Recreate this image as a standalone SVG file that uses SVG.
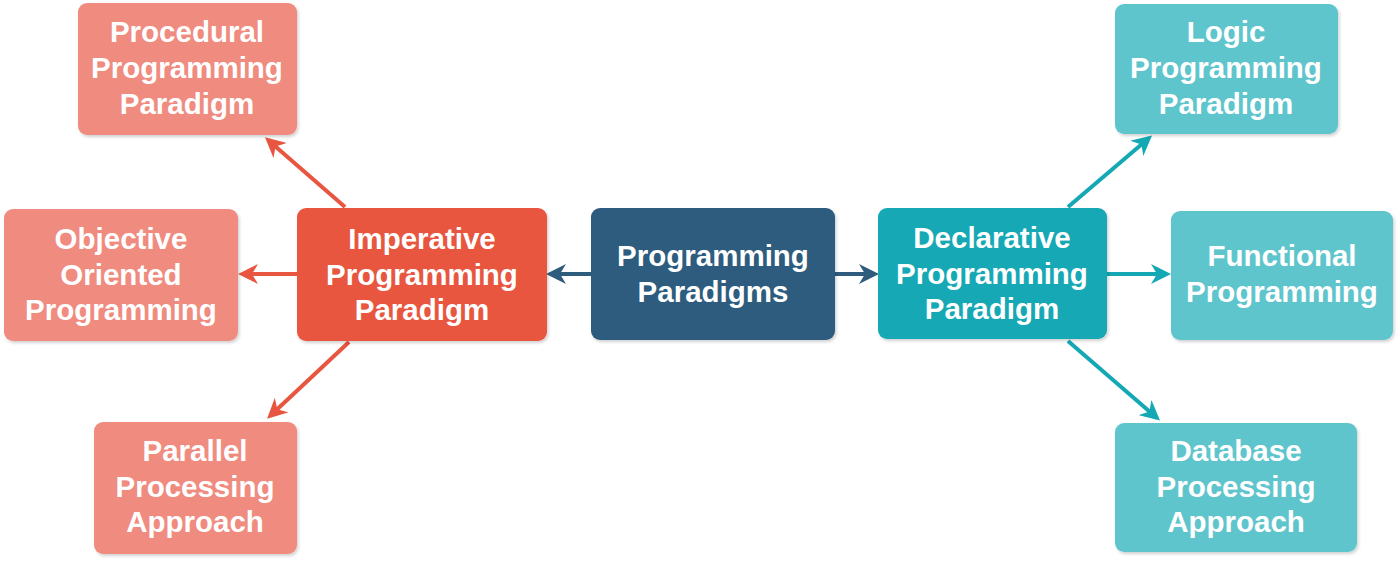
<svg xmlns="http://www.w3.org/2000/svg" width="1400" height="562" viewBox="0 0 1400 562">
<defs>
<style>
.t{font-family:"Liberation Sans",Arial,sans-serif;font-weight:bold;font-size:29.5px;fill:#ffffff;text-anchor:middle}
.lr{fill:#F08B7F}
.dr{fill:#E85641}
.nv{fill:#2E5C7E}
.tl{fill:#13A8B4}
.lt{fill:#5FC5CD}
.c{fill:none;stroke-width:4}
.cr{stroke:#E85641}
.cb{stroke:#2E5C7E}
.ct{stroke:#13A8B4}
</style>
<filter id="sh" x="-10%" y="-10%" width="125%" height="130%">
<feDropShadow dx="1.5" dy="2" stdDeviation="1.5" flood-color="#000" flood-opacity="0.18"/>
</filter>
<marker id="ar" viewBox="0 0 10 10" refX="8" refY="5" markerWidth="5" markerHeight="5" orient="auto" markerUnits="strokeWidth">
<path d="M0,0 L10,5 L0,10 L3,5 z" fill="#E85641"/>
</marker>
<marker id="ab" viewBox="0 0 10 10" refX="8" refY="5" markerWidth="5" markerHeight="5" orient="auto" markerUnits="strokeWidth">
<path d="M0,0 L10,5 L0,10 L3,5 z" fill="#2E5C7E"/>
</marker>
<marker id="at" viewBox="0 0 10 10" refX="8" refY="5" markerWidth="5" markerHeight="5" orient="auto" markerUnits="strokeWidth">
<path d="M0,0 L10,5 L0,10 L3,5 z" fill="#13A8B4"/>
</marker>
</defs>
<rect width="1400" height="562" fill="#ffffff"/>

<g id="connectors">
<line class="c cb" x1="591" y1="274" x2="550" y2="274" marker-end="url(#ab)"/>
<line class="c cb" x1="835" y1="274" x2="875" y2="274" marker-end="url(#ab)"/>
<line class="c cr" x1="345" y1="207" x2="268" y2="140" marker-end="url(#ar)"/>
<line class="c cr" x1="297" y1="274" x2="242" y2="274" marker-end="url(#ar)"/>
<line class="c cr" x1="349" y1="342" x2="270" y2="416" marker-end="url(#ar)"/>
<line class="c ct" x1="1068" y1="207" x2="1149" y2="138" marker-end="url(#at)"/>
<line class="c ct" x1="1107" y1="274" x2="1167" y2="274" marker-end="url(#at)"/>
<line class="c ct" x1="1068" y1="341" x2="1157" y2="418" marker-end="url(#at)"/>
</g>

<g id="n-center">
<rect class="nv" x="591" y="208" width="244" height="132" rx="9" filter="url(#sh)"/>
<text class="t" x="713" y="266">Programming</text>
<text class="t" x="713" y="302">Paradigms</text>
</g>

<g id="n-imperative">
<rect class="dr" x="297" y="208" width="250" height="133" rx="9" filter="url(#sh)"/>
<text class="t" x="422" y="249">Imperative</text>
<text class="t" x="422" y="285">Programming</text>
<text class="t" x="422" y="320">Paradigm</text>
</g>

<g id="n-declarative">
<rect class="tl" x="878" y="208" width="229" height="131" rx="9" filter="url(#sh)"/>
<text class="t" x="992" y="248">Declarative</text>
<text class="t" x="992" y="284">Programming</text>
<text class="t" x="992" y="319">Paradigm</text>
</g>

<g id="n-procedural">
<rect class="lr" x="78" y="3" width="219" height="132" rx="9" filter="url(#sh)"/>
<text class="t" x="187" y="42">Procedural</text>
<text class="t" x="187" y="78">Programming</text>
<text class="t" x="187" y="114">Paradigm</text>
</g>

<g id="n-objective">
<rect class="lr" x="4" y="209" width="234" height="132" rx="9" filter="url(#sh)"/>
<text class="t" x="121" y="249">Objective</text>
<text class="t" x="121" y="285">Oriented</text>
<text class="t" x="121" y="320">Programming</text>
</g>

<g id="n-parallel">
<rect class="lr" x="94" y="422" width="203" height="132" rx="9" filter="url(#sh)"/>
<text class="t" x="195" y="461">Parallel</text>
<text class="t" x="195" y="497">Processing</text>
<text class="t" x="195" y="532">Approach</text>
</g>

<g id="n-logic">
<rect class="lt" x="1115" y="4" width="223" height="130" rx="9" filter="url(#sh)"/>
<text class="t" x="1226" y="42">Logic</text>
<text class="t" x="1226" y="78">Programming</text>
<text class="t" x="1226" y="114">Paradigm</text>
</g>

<g id="n-functional">
<rect class="lt" x="1171" y="211" width="222" height="129" rx="9" filter="url(#sh)"/>
<text class="t" x="1282" y="266">Functional</text>
<text class="t" x="1282" y="302">Programming</text>
</g>

<g id="n-database">
<rect class="lt" x="1115" y="423" width="242" height="129" rx="9" filter="url(#sh)"/>
<text class="t" x="1236" y="461">Database</text>
<text class="t" x="1236" y="497">Processing</text>
<text class="t" x="1236" y="532">Approach</text>
</g>
</svg>
